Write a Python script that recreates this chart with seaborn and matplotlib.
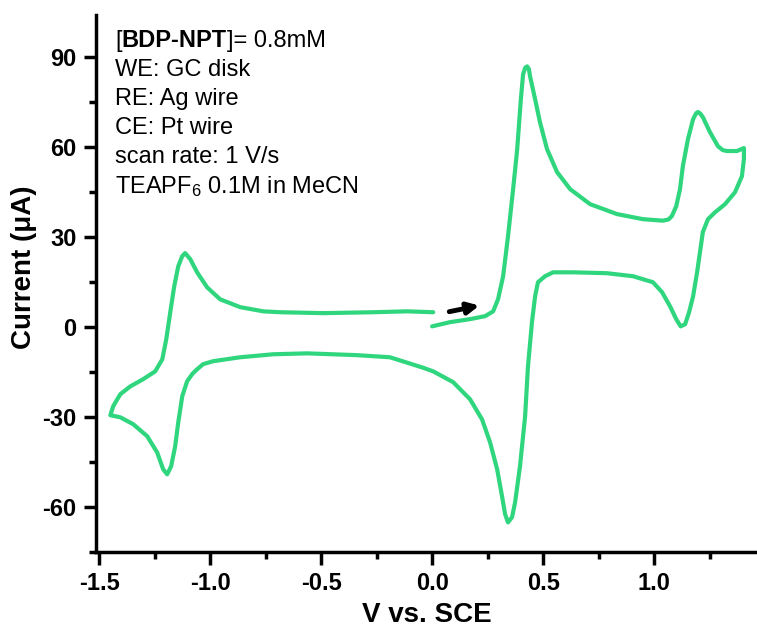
import numpy as np
import pandas as pd
import matplotlib
matplotlib.use("Agg")
import matplotlib.pyplot as plt
import seaborn as sns
from matplotlib.ticker import MultipleLocator

# potential (V vs SCE) and current (uA), in scan order
potential = [0.000, 0.081, 0.171, 0.239, 0.275, 0.297, 0.320, 0.342, 0.365, 0.383,
             0.400, 0.410, 0.420, 0.428, 0.436, 0.441, 0.464, 0.486, 0.518, 0.563, 0.622, 0.712,
             0.833, 0.950, 1.040, 1.065, 1.080, 1.100, 1.117, 1.130, 1.153, 1.176, 1.190, 1.198,
             1.208, 1.220, 1.252, 1.288, 1.310, 1.329, 1.374, 1.405,
             1.405, 1.396, 1.365, 1.320, 1.275, 1.243, 1.220, 1.207, 1.194, 1.176,
             1.158, 1.140, 1.120, 1.100, 1.072, 1.036, 0.995, 0.905, 0.788, 0.635,
             0.545, 0.509, 0.477, 0.464, 0.450, 0.432, 0.419, 0.396, 0.374, 0.360,
             0.342, 0.329, 0.315, 0.293, 0.261, 0.225, 0.171, 0.095, 0.005, -0.040,
             -0.190, -0.338, -0.563, -0.716, -0.865, -0.986, -1.032, -1.059, -1.080,
             -1.104, -1.126, -1.144, -1.158, -1.176, -1.194, -1.212, -1.239, -1.284,
             -1.347, -1.405, -1.450,
             -1.437, -1.405, -1.360, -1.302, -1.248, -1.216, -1.198, -1.180, -1.162,
             -1.144, -1.126, -1.113, -1.090, -1.059, -1.014, -0.955, -0.865, -0.761,
             -0.685, -0.490, -0.266, -0.113, 0.005]
current = [0.3, 1.7, 2.7, 3.7, 5.3, 9.3, 17.0, 30.3, 46.0, 59.0,
           76.0, 84.3, 86.5, 86.9, 86.0, 83.7, 76.0, 68.3, 59.3, 51.7, 46.0, 41.0,
           37.7, 36.0, 35.5, 35.9, 37.0, 40.3, 46.0, 53.7, 62.7, 69.3, 71.3, 71.7,
           71.2, 70.0, 65.0, 60.3, 59.0, 58.7, 58.7, 59.7,
           56.0, 50.3, 45.0, 41.0, 38.3, 36.0, 31.7, 25.0, 18.3, 10.3,
           5.0, 1.0, 0.3, 2.7, 7.0, 11.7, 15.0, 17.0, 18.0, 18.3,
           18.3, 17.0, 15.0, 10.3, 1.7, -13.0, -29.7, -46.3, -58.3, -63.3,
           -65.0, -62.3, -56.3, -47.3, -38.3, -30.7, -24.0, -18.3, -14.7, -13.5,
           -10.0, -9.3, -8.7, -9.0, -10.0, -11.3, -12.3, -14.0, -15.5,
           -18.0, -23.0, -31.7, -39.7, -46.3, -49.0, -47.3, -41.7, -36.3,
           -32.3, -30.0, -29.3,
           -26.3, -22.3, -19.7, -17.3, -14.7, -10.7, -4.0, 5.0, 13.7,
           20.3, 23.7, 24.7, 22.7, 18.3, 13.3, 9.3, 6.7, 5.3,
           5.0, 4.7, 5.0, 5.3, 5.0]

x_ticks = [-1.5, -1.0, -0.5, 0.0, 0.5, 1.0]
x_labels = ["-1.5", "-1.0", "-0.5", "0.0", "0.5", "1.0"]
y_ticks = [-60, -30, 0, 30, 60, 90]
y_labels = ["-60", "-30", "0", "30", "60", "90"]

conditions = ["WE: GC disk", "RE: Ag wire", "CE: Pt wire", "scan rate: 1 V/s",
              "TEAPF$_6$ 0.1M in MeCN"]

df = pd.DataFrame({"V": potential, "I": current})

sns.set_style("ticks")
plt.rcParams["font.family"] = ["Liberation Sans", "DejaVu Sans"]
plt.rcParams["mathtext.fontset"] = "custom"
plt.rcParams["mathtext.rm"] = "Liberation Sans"
plt.rcParams["mathtext.it"] = "Liberation Sans"
plt.rcParams["mathtext.default"] = "regular"
for k in ["text.color", "axes.labelcolor", "xtick.color", "ytick.color", "axes.edgecolor"]:
    plt.rcParams[k] = "black"

fig = plt.figure(figsize=(7.57, 6.27), dpi=100)
ax = fig.add_axes([0.127, 0.119, 0.873, 0.857])

sns.lineplot(data=df, x="V", y="I", sort=False, estimator=None, color="#2fd67e",
             lw=3, ax=ax, solid_joinstyle="round", solid_capstyle="round")

# scan direction arrow
ax.annotate("", xy=(0.225, 7.4), xytext=(0.065, 5.0),
            arrowprops=dict(arrowstyle="-|>", color="black", lw=3.5, mutation_scale=17))

ax.set_xlim(-1.514, 1.464)
ax.set_ylim(-75, 104)
ax.xaxis.set_minor_locator(MultipleLocator(0.25))
ax.yaxis.set_minor_locator(MultipleLocator(15))
ax.set_xticks(x_ticks)
ax.set_xticklabels(x_labels, fontsize=17, fontweight="bold")
ax.set_yticks(y_ticks)
ax.set_yticklabels(y_labels, fontsize=17, fontweight="bold")

sns.despine(ax=ax)
for s in ["left", "bottom"]:
    ax.spines[s].set_linewidth(2.5)
ax.tick_params(which="major", direction="out", length=9, width=2.5, pad=5)
ax.tick_params(which="minor", direction="out", length=5, width=2.5)

ax.set_xlabel("V vs. SCE", fontsize=20, fontweight="bold", labelpad=5)
ax.set_ylabel("Current (μA)", fontsize=20, fontweight="bold")
ax.yaxis.set_label_coords(-0.089, 0.53)

# experimental conditions text
t1 = ax.text(-1.428, 95.3, "[", fontsize=17, va="center")
t2 = ax.annotate("BDP-NPT", xy=(1, 0), xycoords=t1, va="bottom", fontsize=17,
                 fontweight="bold")
ax.annotate("]= 0.8mM", xy=(1, 0), xycoords=t2, va="bottom", fontsize=17)
for i, line in enumerate(conditions):
    ax.text(-1.428, 85.7 - 9.67 * i, line, fontsize=17, va="center")

fig.savefig("out.png", dpi=100)
